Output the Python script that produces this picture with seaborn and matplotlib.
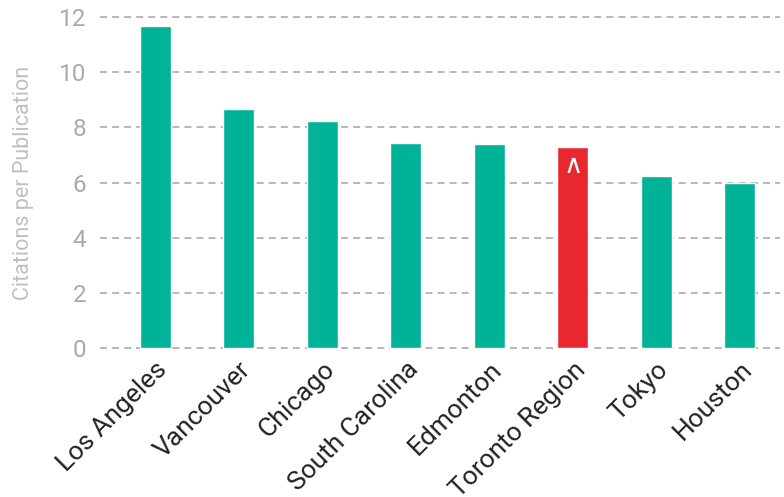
import pandas as pd
import matplotlib
matplotlib.use("Agg")
import matplotlib.pyplot as plt
import seaborn as sns

regions = ["Los Angeles", "Vancouver", "Chicago", "South Carolina",
           "Edmonton", "Toronto Region", "Tokyo", "Houston"]
citations = [11.70, 8.66, 8.22, 7.43, 7.39, 7.28, 6.23, 5.98]
highlight = "Toronto Region"

teal = "#00b398"
red = "#e8282e"
gray = "#aaaaaa"


def main():
    sns.set_style("white")
    plt.rcParams["font.family"] = ["Roboto", "DejaVu Sans"]

    df = pd.DataFrame({"Region": regions, "Citations": citations})
    palette = {r: (red if r == highlight else teal) for r in regions}

    fig = plt.figure(figsize=(7.84, 4.97), dpi=100)
    ax = fig.add_axes([100 / 784, 1 - 349 / 497, 680 / 784, 333 / 497])

    sns.barplot(data=df, x="Region", y="Citations", hue="Region",
                palette=palette, width=0.37, legend=False, ax=ax,
                zorder=3, saturation=1)

    ax.set_ylim(-0.05, 12.05)
    ax.set_xlim(-0.66, 7.48)
    ax.set_yticks(range(0, 13, 2))
    ax.yaxis.grid(True, linestyle=(0, (3.6, 2.6)), color="#b8b8b8", linewidth=1.4, zorder=0)
    ax.xaxis.grid(False)
    for s in ax.spines.values():
        s.set_visible(False)
    ax.tick_params(axis="y", length=0, labelsize=17.5, labelcolor=gray, pad=10)
    ax.tick_params(axis="x", length=0, labelsize=19, labelcolor="#222222", pad=6)
    plt.setp(ax.get_xticklabels(), rotation=45, ha="right", rotation_mode="anchor")
    ax.set_xlabel("")
    ax.set_ylabel("Citations per Publication", fontsize=15.5, color="#c0c0c0", labelpad=18)

    # marker on the highlighted bar
    i = regions.index(highlight)
    ax.text(i, citations[i] - 0.2, "\u2227", color="white", ha="center", va="top",
            fontsize=19, family="DejaVu Sans", zorder=4)

    fig.savefig("out.png", dpi=100)


if __name__ == "__main__":
    main()
